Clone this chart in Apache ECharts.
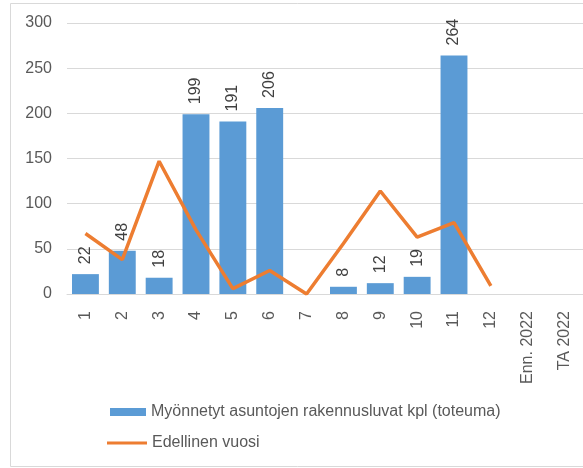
<!DOCTYPE html>
<html>
<head>
<meta charset="utf-8">
<script src="https://cdn.jsdelivr.net/npm/echarts@6/dist/echarts.min.js"></script>
<style>
  html, body { margin: 0; padding: 0; background: #fff; }
  #chart { width: 583px; height: 468px; }
</style>
</head>
<body>
<div id="chart"></div>
<script>
// kuukaudet + ennuste / tavoite
var categories = ['1', '2', '3', '4', '5', '6', '7', '8', '9', '10', '11', '12', 'Enn. 2022', 'TA 2022']
var luvat = [22, 48, 18, 199, 191, 206, null, 8, 12, 19, 264, null, null, null]
var edellinen = [67, 38, 147, 71, 6, 26, 0, 56, 114, 63, 79, 9, null, null]
var yTicks = { min: 0, max: 300, interval: 50 }

var barName = 'Myönnetyt asuntojen rakennusluvat kpl (toteuma)'
var lineName = 'Edellinen vuosi'
var legendText = { color: '#595959', fontSize: 16, fontFamily: 'Liberation Sans, Arial, sans-serif' }

var chart = echarts.init(document.getElementById('chart'))
chart.setOption({
  animation: false,
  textStyle: { fontFamily: 'Liberation Sans, Arial, sans-serif' },
  graphic: [{
    type: 'rect',
    shape: { x: 10.5, y: 3.5, width: 590, height: 463 },
    style: { fill: 'none', stroke: '#d9d9d9', lineWidth: 1 },
    silent: true
  }],
  grid: {
    left: 67,
    top: 23,
    width: 519,
    height: 271
  },
  // two legends so the line icon can be a thin stroke
  legend: [
    {
      left: 105,
      top: 399,
      itemWidth: 36,
      itemHeight: 8,
      icon: 'rect',
      textStyle: legendText,
      data: [barName]
    },
    {
      left: 102,
      top: 430,
      itemWidth: 40,
      itemHeight: 3,
      icon: 'rect',
      textStyle: legendText,
      data: [lineName]
    }
  ],
  xAxis: {
    type: 'category',
    data: categories,
    axisTick: { show: false },
    axisLine: { lineStyle: { color: '#d9d9d9' } },
    axisLabel: {
      rotate: 90,
      color: '#595959',
      fontSize: 16,
      margin: 17,
      interval: 0
    }
  },
  yAxis: {
    type: 'value',
    min: yTicks.min,
    max: yTicks.max,
    interval: yTicks.interval,
    axisLine: { show: false },
    axisTick: { show: false },
    splitLine: { lineStyle: { color: '#d9d9d9' } },
    axisLabel: { color: '#595959', fontSize: 16, margin: 15 }
  },
  series: [
    {
      name: barName,
      type: 'bar',
      data: luvat,
      barCategoryGap: '27%',
      itemStyle: { color: '#5b9bd5' },
      label: {
        show: true,
        position: 'top',
        rotate: 90,
        align: 'left',
        verticalAlign: 'middle',
        distance: 10,
        color: '#404040',
        fontSize: 16
      }
    },
    {
      name: lineName,
      type: 'line',
      data: edellinen,
      symbol: 'none',
      lineStyle: { color: '#ed7d31', width: 3.5 },
      itemStyle: { color: '#ed7d31' }
    }
  ]
})
</script>
</body>
</html>
